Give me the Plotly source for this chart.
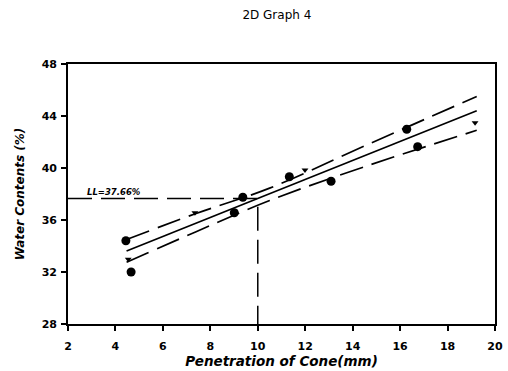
import plotly.graph_objects as go

# Cone penetration test readings
circle_pen = [4.44, 4.66, 9.01, 9.37, 11.33, 13.09, 16.28, 16.74]
circle_wc = [34.4, 32.0, 36.56, 37.75, 39.33, 38.98, 42.98, 41.64]
tri_pen = [4.54, 7.35, 11.99, 19.16]
tri_wc = [32.98, 36.56, 39.85, 43.49]

# Regression line and its confidence band
fit_pen = [4.47, 19.23]
fit_wc = [33.62, 44.40]
band_pen = [4.47, 7.4, 10.5, 14.5, 19.23]
band_upper = [34.5, 36.5, 38.45, 41.7, 45.5]
band_lower = [32.75, 35.1, 37.5, 40.1, 42.9]

# Liquid limit read at 10 mm penetration
ll_pen = 10
ll_value = 37.66

x_ticks = [2, 4, 6, 8, 10, 12, 14, 16, 18, 20]
y_ticks = [28, 32, 36, 40, 44, 48]

FONT = "DejaVu Sans, Liberation Sans, sans-serif"
DASH = "24px,9px"

fig = go.Figure()

fig.add_trace(go.Scatter(x=band_pen, y=band_upper, mode="lines",
                         line=dict(color="black", width=1.7, dash=DASH, shape="spline")))
fig.add_trace(go.Scatter(x=band_pen, y=band_lower, mode="lines",
                         line=dict(color="black", width=1.7, dash=DASH, shape="spline")))
fig.add_trace(go.Scatter(x=fit_pen, y=fit_wc, mode="lines",
                         line=dict(color="black", width=1.7)))
fig.add_trace(go.Scatter(x=[x_ticks[0], ll_pen, ll_pen], y=[ll_value, ll_value, y_ticks[0]],
                         mode="lines", line=dict(color="black", width=1.5, dash=DASH)))
fig.add_trace(go.Scatter(x=circle_pen, y=circle_wc, mode="markers",
                         marker=dict(symbol="circle", size=9, color="black")))
fig.add_trace(go.Scatter(x=tri_pen, y=tri_wc, mode="markers",
                         marker=dict(symbol="triangle-down", size=6, color="black")))

fig.add_annotation(x=2.7, y=ll_value, xanchor="left", yanchor="bottom", yshift=-1,
                   text=f"<b><i>LL={ll_value:.2f}%</i></b>", showarrow=False,
                   font=dict(family=FONT, size=8.5, color="black"))

axis_common = dict(showline=True, linecolor="black", linewidth=1.6, mirror=True,
                   ticks="outside", ticklen=5, tickwidth=1.6, tickcolor="black",
                   showgrid=False, zeroline=False, automargin=False,
                   tickfont=dict(family=FONT, size=11, color="black"))

fig.update_layout(
    width=508, height=371,
    margin=dict(l=68, r=13, t=64, b=47),
    paper_bgcolor="white", plot_bgcolor="white",
    showlegend=False,
    title=dict(text="2D Graph 4", x=0.545, xanchor="center", y=0.96, yanchor="middle",
               font=dict(family=FONT, size=12, color="black")),
    xaxis=dict(range=[2, 20], tickvals=x_ticks,
               ticktext=[f"<b>{v}</b>" for v in x_ticks],
               ticklabelstandoff=6,
               title=dict(text="<b><i>Penetration of Cone(mm)</i></b>", standoff=1,
                          font=dict(family=FONT, size=13.5, color="black")),
               **axis_common),
    yaxis=dict(range=[28, 48], tickvals=y_ticks,
               ticktext=[f"<b>{v}</b>" for v in y_ticks],
               ticklabelstandoff=2,
               title=dict(text="<b><i>Water Contents (%)</i></b>", standoff=14,
                          font=dict(family=FONT, size=12, color="black")),
               **axis_common),
)

fig.write_html("out.html")
